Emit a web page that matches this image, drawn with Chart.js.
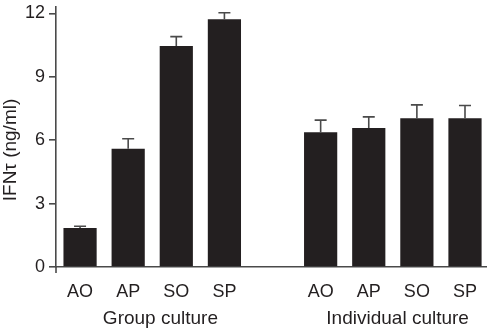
<!DOCTYPE html>
<html>
<head>
<meta charset="utf-8">
<script src="https://cdn.jsdelivr.net/npm/chart.js@4"></script>
<style>
  body { margin: 0; background: #fff; overflow: hidden; }
  #wrap { width: 491px; height: 332px; position: relative; }
</style>
</head>
<body>
<div id="wrap"><canvas id="myChart"></canvas></div>
<script>
// bar labels, the empty slot separates the two culture groups
const categories = ['AO', 'AP', 'SO', 'SP', '', 'AO', 'AP', 'SO', 'SP'];
const means = [1.85, 5.6, 10.45, 11.72, null, 6.38, 6.57, 7.04, 7.04];
const errors = [0.08, 0.47, 0.45, 0.31, null, 0.57, 0.53, 0.63, 0.6];
const yTicks = [0, 3, 6, 9, 12];
const yTitle = 'IFNτ (ng/ml)';
const groupTitles = ['Group culture', 'Individual culture'];
const groupCenters = [1.67, 6.6]; // in category index units

const ink = '#231f20';
const axisGray = '#4a4a4a';
const fontFamily = '"Liberation Sans", Arial, Helvetica, sans-serif';

// error bars, axis tail, y title and group names
const extras = {
    id: 'extras',
    afterDatasetsDraw(chart) {
        const ctx = chart.ctx;
        const x = chart.scales.x;
        const y = chart.scales.y;
        ctx.save();
        ctx.strokeStyle = axisGray;
        ctx.lineWidth = 1.6;
        means.forEach((m, i) => {
            if (m == null) return;
            const px = x.getPixelForValue(i);
            const top = y.getPixelForValue(m);
            const end = y.getPixelForValue(m + errors[i]);
            ctx.beginPath();
            ctx.moveTo(px, top);
            ctx.lineTo(px, end);
            ctx.moveTo(px - 6, end);
            ctx.lineTo(px + 6, end);
            ctx.stroke();
        });
        // y axis runs a little below zero
        ctx.beginPath();
        ctx.moveTo(y.right, y.bottom);
        ctx.lineTo(y.right, y.bottom + 6);
        ctx.stroke();

        ctx.fillStyle = ink;
        ctx.font = '19px ' + fontFamily;
        ctx.textAlign = 'center';
        ctx.textBaseline = 'middle';
        groupTitles.forEach((t, g) => {
            const a = Math.floor(groupCenters[g]);
            const f = groupCenters[g] - a;
            const px = x.getPixelForValue(a) * (1 - f) + x.getPixelForValue(a + 1) * f;
            ctx.fillText(t, px, 319);
        });

        ctx.translate(11, 150);
        ctx.rotate(-Math.PI / 2);
        ctx.fillText(yTitle, 0, 0);
        ctx.restore();
    }
};

const ctx = document.getElementById('myChart').getContext('2d');
const myChart = new Chart(ctx, {
    type: 'bar',
    data: {
        labels: categories,
        datasets: [{
            data: means,
            backgroundColor: ink,
            borderWidth: 0,
            barPercentage: 0.69,
            categoryPercentage: 1
        }]
    },
    options: {
        responsive: true,
        maintainAspectRatio: false,
        animation: false,
        layout: { padding: { top: 7, right: 0, left: 0, bottom: 0 } },
        plugins: {
            legend: { display: false },
            tooltip: { enabled: false }
        },
        scales: {
            x: {
                grid: { display: false, drawTicks: false },
                border: { display: true, color: axisGray, width: 1.6 },
                ticks: {
                    color: ink,
                    font: { family: fontFamily, size: 18 },
                    padding: 14,
                    maxRotation: 0,
                    autoSkip: false
                },
                afterFit: s => { s.height = 65; }
            },
            y: {
                min: 0,
                max: 12.3,
                afterBuildTicks: s => {
                    s.ticks = yTicks.map(v => ({ value: v }));
                },
                grid: {
                    drawOnChartArea: false,
                    drawTicks: true,
                    tickLength: 7,
                    color: axisGray,
                    lineWidth: 1.6
                },
                border: { display: true, color: axisGray, width: 1.6 },
                ticks: {
                    color: ink,
                    font: { family: fontFamily, size: 18 },
                    padding: 4
                },
                afterFit: s => {
                    s.width = 56;
                    s.paddingTop = 0;
                    s.paddingBottom = 0;
                }
            }
        }
    },
    plugins: [extras]
});
</script>
</body>
</html>
